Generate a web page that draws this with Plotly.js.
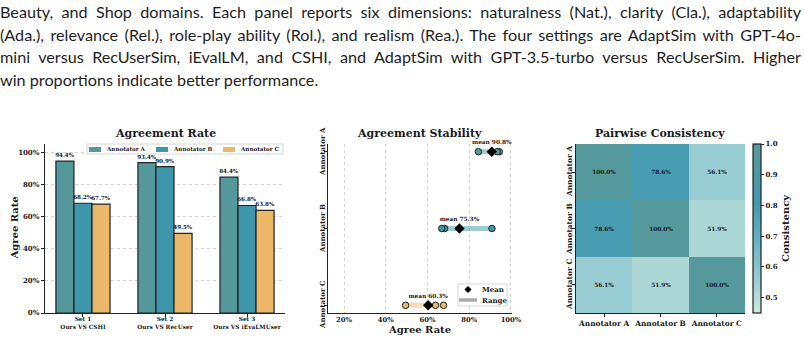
<!DOCTYPE html>
<html>
<head>
<meta charset="utf-8">
<script src="https://cdn.plot.ly/plotly-3.0.1.min.js"></script>
<style>
  html, body { margin: 0; padding: 0; background: #fff; }
  #wrap { position: relative; width: 804px; height: 339px; overflow: hidden; }
  #chart { position: absolute; left: 0; top: 0; width: 804px; height: 339px; }
  #caption { position: absolute; left: 0; top: 1px; width: 801px;
             font-family: Lato, "Noto Sans", sans-serif; font-size: 16.2px;
             line-height: 22.7px; color: #1e1e1e; }
  #caption div { text-align: justify; text-align-last: justify; white-space: nowrap; }
  #caption div.last { text-align-last: left; }
</style>
</head>
<body>
<div id="wrap">
  <div id="chart"></div>
  <div id="caption">
    <div>Beauty, and Shop domains. Each panel reports six dimensions: naturalness (Nat.), clarity (Cla.), adaptability</div>
    <div>(Ada.), relevance (Rel.), role-play ability (Rol.), and realism (Rea.). The four settings are AdaptSim with GPT-4o-</div>
    <div>mini versus RecUserSim, iEvalLM, and CSHI, and AdaptSim with GPT-3.5-turbo versus RecUserSim. Higher</div>
    <div class="last">win proportions indicate better performance.</div>
  </div>
</div>
<script>
// ---- data ----
const annotators = ['Annotator A', 'Annotator B', 'Annotator C'];
const setLabels = ['Set 1<br>Ours VS CSHI', 'Set 2<br>Ours VS RecUser', 'Set 3<br>Ours VS iEvaLMUser'];
const rateA = [94.4, 93.4, 84.4];
const rateB = [68.2, 90.9, 66.8];
const rateC = [67.7, 49.5, 63.8];
const meanRate = [90.8, 75.3, 60.3];
const consistency = [
  [1.000, 0.786, 0.561],
  [0.786, 1.000, 0.519],
  [0.561, 0.519, 1.000]
];
const pctTicks = [0, 20, 40, 60, 80, 100];
const cbarTicks = [0.5, 0.6, 0.7, 0.8, 0.9, 1.0];

// ---- style helpers ----
const W = 804, H = 339;
const px = v => v / W;
const py = v => 1 - v / H;
const SERIF = 'DejaVu Serif, serif';
const INK = '#1a1a1a';
const colors = ['#55989b', '#3e96aa', '#ebb768'];
const rangeColors = ['rgba(85,152,155,0.5)', 'rgba(62,150,170,0.5)', 'rgba(235,183,104,0.5)'];
const bfont = (size, color) => ({ family: SERIF, size: size, color: color || INK, weight: 'bold' });
const pct = v => v + '%';

const rates = [rateA, rateB, rateC];
const traces = [];

// Panel 1: grouped bars
rates.forEach((vals, i) => {
  traces.push({
    type: 'bar', x: setLabels, y: vals, name: annotators[i],
    xaxis: 'x', yaxis: 'y', showlegend: false,
    marker: { color: colors[i], line: { color: '#222', width: 1.2 } },
    texttemplate: '%{y:.1f}%', textposition: 'outside',
    constraintext: 'none', cliponaxis: false,
    outsidetextfont: bfont(5.6), hoverinfo: 'skip'
  });
});

// Panel 2: range, individual rates and mean per annotator
rates.forEach((vals, i) => {
  const lo = Math.min(...vals), hi = Math.max(...vals);
  const row = annotators.length - 1 - i;
  traces.push({
    type: 'scatter', mode: 'lines', x: [lo, hi], y: [row, row],
    xaxis: 'x2', yaxis: 'y2', showlegend: false,
    line: { color: rangeColors[i], width: 5 }, hoverinfo: 'skip'
  });
  traces.push({
    type: 'scatter', mode: 'markers', x: vals, y: vals.map(() => row),
    xaxis: 'x2', yaxis: 'y2', showlegend: false,
    marker: { color: colors[i], size: 6.5, line: { color: '#222', width: 1 } }, hoverinfo: 'skip'
  });
  traces.push({
    type: 'scatter', mode: 'markers+text', x: [meanRate[i]], y: [row],
    xaxis: 'x2', yaxis: 'y2', showlegend: false,
    marker: { color: '#000', symbol: 'diamond', size: 8 },
    text: ['mean ' + meanRate[i].toFixed(1) + '%'], textposition: 'top center',
    textfont: bfont(5.8), cliponaxis: false, hoverinfo: 'skip'
  });
});

// Panel 3: pairwise consistency heatmap
traces.push({
  type: 'heatmap', x: annotators, y: annotators, z: consistency,
  xaxis: 'x3', yaxis: 'y3', zmin: 0.45, zmax: 1.0,
  colorscale: [[0, '#cfe8dd'], [0.18, '#9dd0d4'], [0.4, '#6bb6c8'], [0.65, '#4298af'], [1, '#569a9d']],
  texttemplate: '%{z:.1%}', textfont: bfont(5.8),
  hoverinfo: 'skip', showlegend: false,
  colorbar: {
    x: px(753), xanchor: 'left', y: py(313), yanchor: 'bottom',
    len: 169 / H, lenmode: 'fraction', thickness: 8, thicknessmode: 'pixels',
    outlinewidth: 1.2, outlinecolor: '#222', xpad: 0, ypad: 0,
    tickmode: 'array', tickvals: cbarTicks, ticktext: cbarTicks.map(v => v.toFixed(1)),
    ticks: 'outside', ticklen: 3, tickcolor: '#222', tickfont: bfont(7),
    title: { text: 'Consistency', side: 'right', font: bfont(10) }
  }
});

const axisBase = {
  showline: true, linecolor: '#222', linewidth: 1.2, mirror: false,
  ticks: 'outside', ticklen: 3, tickcolor: '#222', zeroline: false,
  fixedrange: true
};

// legend keys drawn as shapes + labels
const shapes = [];
const notes = [];
const legendBox = (x0, y0, x1, y1) => shapes.push({
  type: 'rect', xref: 'paper', yref: 'paper', x0: px(x0), x1: px(x1), y0: py(y1), y1: py(y0),
  line: { color: '#cccccc', width: 0.8 }, fillcolor: 'rgba(255,255,255,0.85)', layer: 'above'
});
const label = (text, x, y, size) => notes.push({
  text: text, x: px(x), y: py(y), xref: 'paper', yref: 'paper',
  xanchor: 'left', yanchor: 'middle', showarrow: false, font: bfont(size)
});
const vlabel = (text, x, y, size) => notes.push({
  text: text, x: px(x), y: py(y), xref: 'paper', yref: 'paper',
  xanchor: 'center', yanchor: 'middle', textangle: -90, showarrow: false, font: bfont(size)
});

legendBox(87, 144, 283, 154);
annotators.forEach((name, i) => {
  const sx = 89 + i * 67;
  shapes.push({
    type: 'rect', xref: 'paper', yref: 'paper', layer: 'above',
    x0: px(sx), x1: px(sx + 12), y0: py(152), y1: py(147),
    fillcolor: colors[i], line: { width: 0 }
  });
  label(name, sx + 15, 149.3, 5.6);
});

legendBox(458, 284, 507, 306);
{
  const cx = 468, cy = 289.5, r = 3.6;
  shapes.push({
    type: 'path', xref: 'paper', yref: 'paper', layer: 'above',
    path: `M ${px(cx)} ${py(cy - r)} L ${px(cx + r)} ${py(cy)} L ${px(cx)} ${py(cy + r)} L ${px(cx - r)} ${py(cy)} Z`,
    fillcolor: '#000', line: { width: 0 }
  });
  label('Mean', 480, 289.5, 7);
  shapes.push({
    type: 'line', xref: 'paper', yref: 'paper', layer: 'above',
    x0: px(459), x1: px(477), y0: py(300), y1: py(300),
    line: { color: '#aaaaaa', width: 3.5 }
  });
  label('Range', 480, 300, 7);
}

// panel titles
const titles = [['Agreement Rate', 165], ['Agreement Stability', 419], ['Pairwise Consistency', 660]];
titles.forEach(([t, x]) => notes.push({
  text: t, x: px(x), y: py(133), xref: 'paper', yref: 'paper',
  xanchor: 'center', yanchor: 'middle', showarrow: false, font: bfont(11)
}));
// y title of the bar panel
vlabel('Agree Rate', 14, 228.5, 10);
// upright-reading annotator names beside the tick marks of panels 2 and 3
const rowY2 = [152, 229, 305];
const rowY3 = [172, 229, 285];
annotators.forEach((name, i) => {
  vlabel(name, 322, rowY2[i], 7);
  vlabel(name, 569, rowY3[i], 7.4);
});

const layout = {
  width: W, height: H,
  margin: { l: 0, r: 0, t: 0, b: 0 },
  paper_bgcolor: '#fff', plot_bgcolor: '#fff',
  barmode: 'group', bargap: 0.34, bargroupgap: 0,
  showlegend: false,
  xaxis: Object.assign({}, axisBase, {
    domain: [px(45), px(285)], range: [-0.463, 2.463], anchor: 'y',
    tickfont: bfont(5.8), showgrid: false, ticklabelstandoff: -3
  }),
  yaxis: Object.assign({}, axisBase, {
    domain: [py(313), py(144)], range: [0, 105], anchor: 'x',
    tickmode: 'array', tickvals: pctTicks, ticktext: pctTicks.map(pct),
    tickfont: bfont(7), showgrid: true, gridcolor: '#d4d4d4', griddash: 'dot', gridwidth: 1
  }),
  xaxis2: Object.assign({}, axisBase, {
    domain: [px(328), px(512)], range: [12.3, 100.5], anchor: 'y2',
    tickmode: 'array', tickvals: pctTicks.slice(1), ticktext: pctTicks.slice(1).map(pct), ticks: '',
    tickfont: bfont(6.8), showgrid: true, gridcolor: '#d4d4d4', griddash: 'dot', gridwidth: 1,
    title: { text: 'Agree Rate', font: bfont(10), standoff: 1 }
  }),
  yaxis2: Object.assign({}, axisBase, {
    domain: [py(313), py(144)], anchor: 'x2', range: [-0.1, 2.1],
    tickmode: 'array', tickvals: [2, 1, 0], showticklabels: false, showgrid: false
  }),
  xaxis3: Object.assign({}, axisBase, {
    domain: [px(576), px(745)], anchor: 'y3', type: 'category',
    tickfont: bfont(7.4), showgrid: false
  }),
  yaxis3: Object.assign({}, axisBase, {
    domain: [py(313), py(144)], anchor: 'x3', type: 'category',
    autorange: 'reversed', showticklabels: false, showgrid: false
  }),
  shapes: shapes,
  annotations: notes
};

Plotly.newPlot('chart', traces, layout, { staticPlot: true, displayModeBar: false });
</script>
</body>
</html>
